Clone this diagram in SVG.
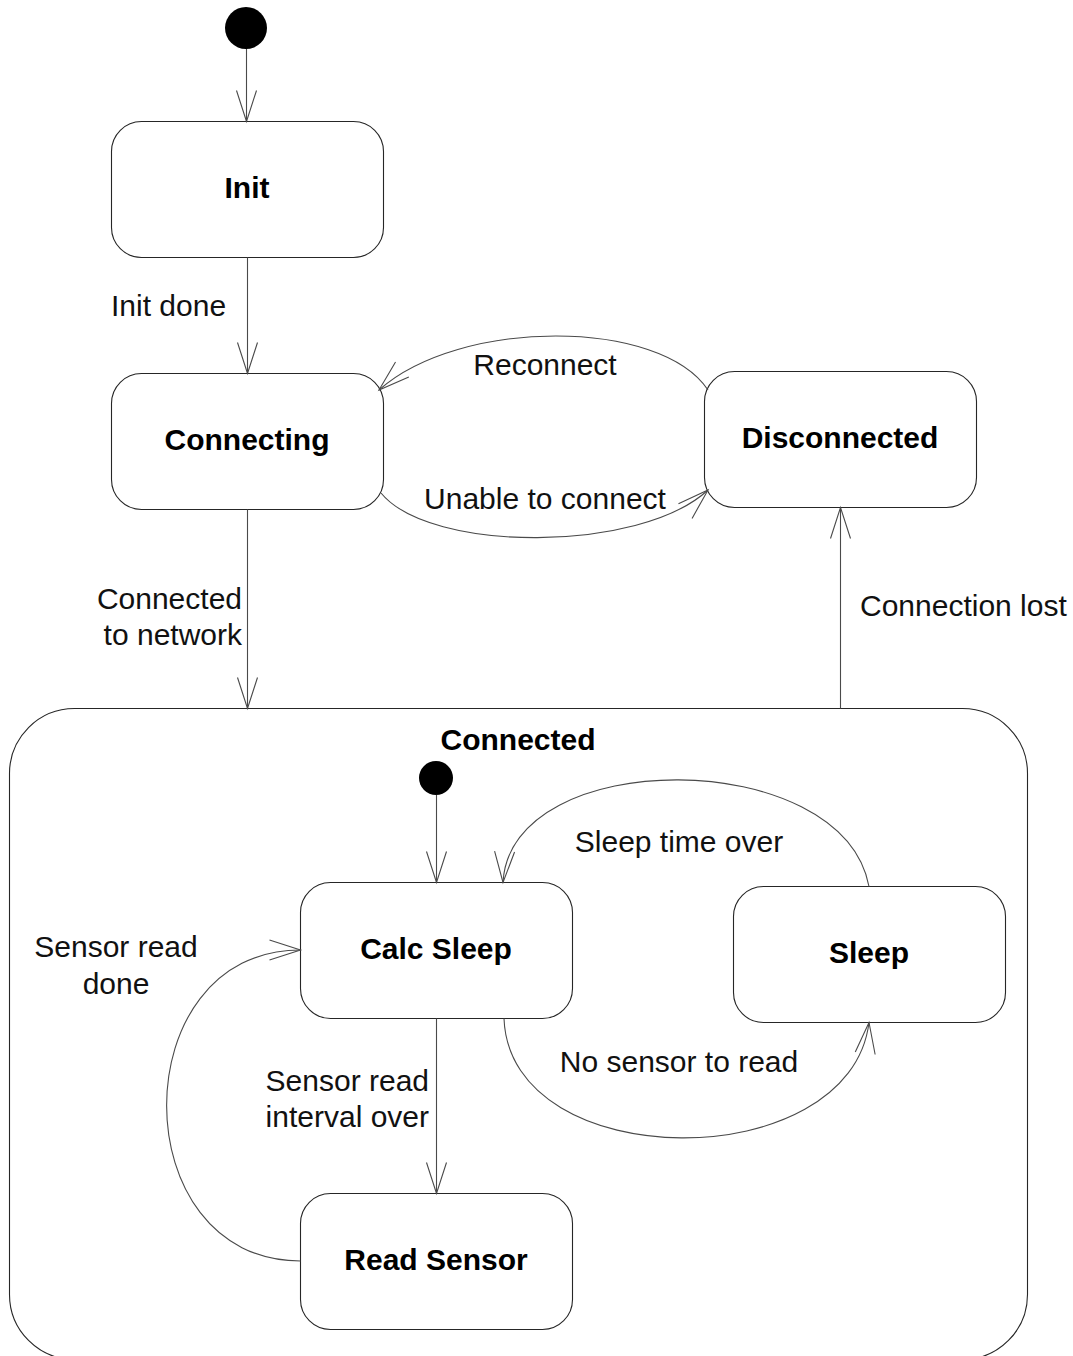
<svg xmlns="http://www.w3.org/2000/svg" width="1073" height="1356" viewBox="0 0 1073 1356">
  <defs>
    <style>
      .state { fill: #ffffff; stroke: #262626; stroke-width: 1.1; }
      .init { fill: #000000; }
      .name { font-family: "Liberation Sans", Arial, sans-serif; font-size: 30px; font-weight: bold; fill: #000; text-anchor: middle; }
      .lbl { font-family: "Liberation Sans", Arial, sans-serif; font-size: 30px; fill: #111; }
      .mid { text-anchor: middle; }
      .end { text-anchor: end; }
      .edge { fill: none; stroke: #4a4a4a; stroke-width: 1.1; marker-end: url(#open); }
    </style>
    <!-- open V arrowhead used by every transition -->
    <marker id="open" markerUnits="userSpaceOnUse" viewBox="-34 -14 36 28" refX="0" refY="0" markerWidth="36" markerHeight="28" orient="auto" overflow="visible">
      <path d="M -31 -10 L 0 0 L -31 10" fill="none" stroke="#4a4a4a" stroke-width="1.1"/>
    </marker>
  </defs>

  <!-- composite state -->
  <g id="connected">
    <rect class="state" x="9.5" y="708.5" width="1018" height="651" rx="65" ry="65"/>
    <text class="name" x="518" y="750">Connected</text>
  </g>

  <g id="start">
    <circle class="init" cx="246" cy="28" r="21"/>
  </g>

  <g id="init-state">
    <rect class="state" x="111.5" y="121.5" width="272" height="136" rx="30" ry="30"/>
    <text class="name" x="247" y="198">Init</text>
  </g>

  <g id="connecting">
    <rect class="state" x="111.5" y="373.5" width="272" height="136" rx="30" ry="30"/>
    <text class="name" x="247" y="450">Connecting</text>
  </g>

  <g id="disconnected">
    <rect class="state" x="704.5" y="371.5" width="272" height="136" rx="30" ry="30"/>
    <text class="name" x="840" y="448">Disconnected</text>
  </g>

  <g id="connected-start">
    <circle class="init" cx="436" cy="778" r="17"/>
  </g>

  <g id="calc-sleep">
    <rect class="state" x="300.5" y="882.5" width="272" height="136" rx="30" ry="30"/>
    <text class="name" x="436" y="959">Calc Sleep</text>
  </g>

  <g id="sleep">
    <rect class="state" x="733.5" y="886.5" width="272" height="136" rx="30" ry="30"/>
    <text class="name" x="869" y="963">Sleep</text>
  </g>

  <g id="read-sensor">
    <rect class="state" x="300.5" y="1193.5" width="272" height="136" rx="30" ry="30"/>
    <text class="name" x="436" y="1270">Read Sensor</text>
  </g>

  <!-- transitions -->
  <g id="connectors">
    <path class="edge" d="M 246.5 49 L 246.5 121.5"/>
    <path class="edge" d="M 247.5 257.5 L 247.5 373.5"/>
    <path class="edge" d="M 708 390 C 660 318 460 318 379 390"/>
    <path class="edge" d="M 381 493 C 430 553 640 553 708 490"/>
    <path class="edge" d="M 247.5 509.5 L 247.5 708.5"/>
    <path class="edge" d="M 840.5 708.5 L 840.5 507.5"/>
    <path class="edge" d="M 436.5 795 L 436.5 882.5"/>
    <path class="edge" d="M 869 886.5 C 842 745 510 745 503 882.5"/>
    <path class="edge" d="M 504 1018.5 C 510 1177 850 1177 869 1022.5"/>
    <path class="edge" d="M 436.5 1018.5 L 436.5 1193.5"/>
    <path class="edge" d="M 300.5 1261 C 122 1261 122 950 300.5 950"/>

    <text class="lbl" x="111" y="316">Init done</text>
    <text class="lbl mid" x="545" y="375">Reconnect</text>
    <text class="lbl mid" x="545" y="509">Unable to connect</text>
    <text class="lbl end" x="242" y="609">Connected</text>
    <text class="lbl end" x="242" y="645">to network</text>
    <text class="lbl" x="860" y="616">Connection lost</text>
    <text class="lbl mid" x="679" y="852">Sleep time over</text>
    <text class="lbl mid" x="116" y="957">Sensor read</text>
    <text class="lbl mid" x="116" y="994">done</text>
    <text class="lbl mid" x="679" y="1072">No sensor to read</text>
    <text class="lbl end" x="429" y="1091">Sensor read</text>
    <text class="lbl end" x="429" y="1127">interval over</text>
  </g>
</svg>
